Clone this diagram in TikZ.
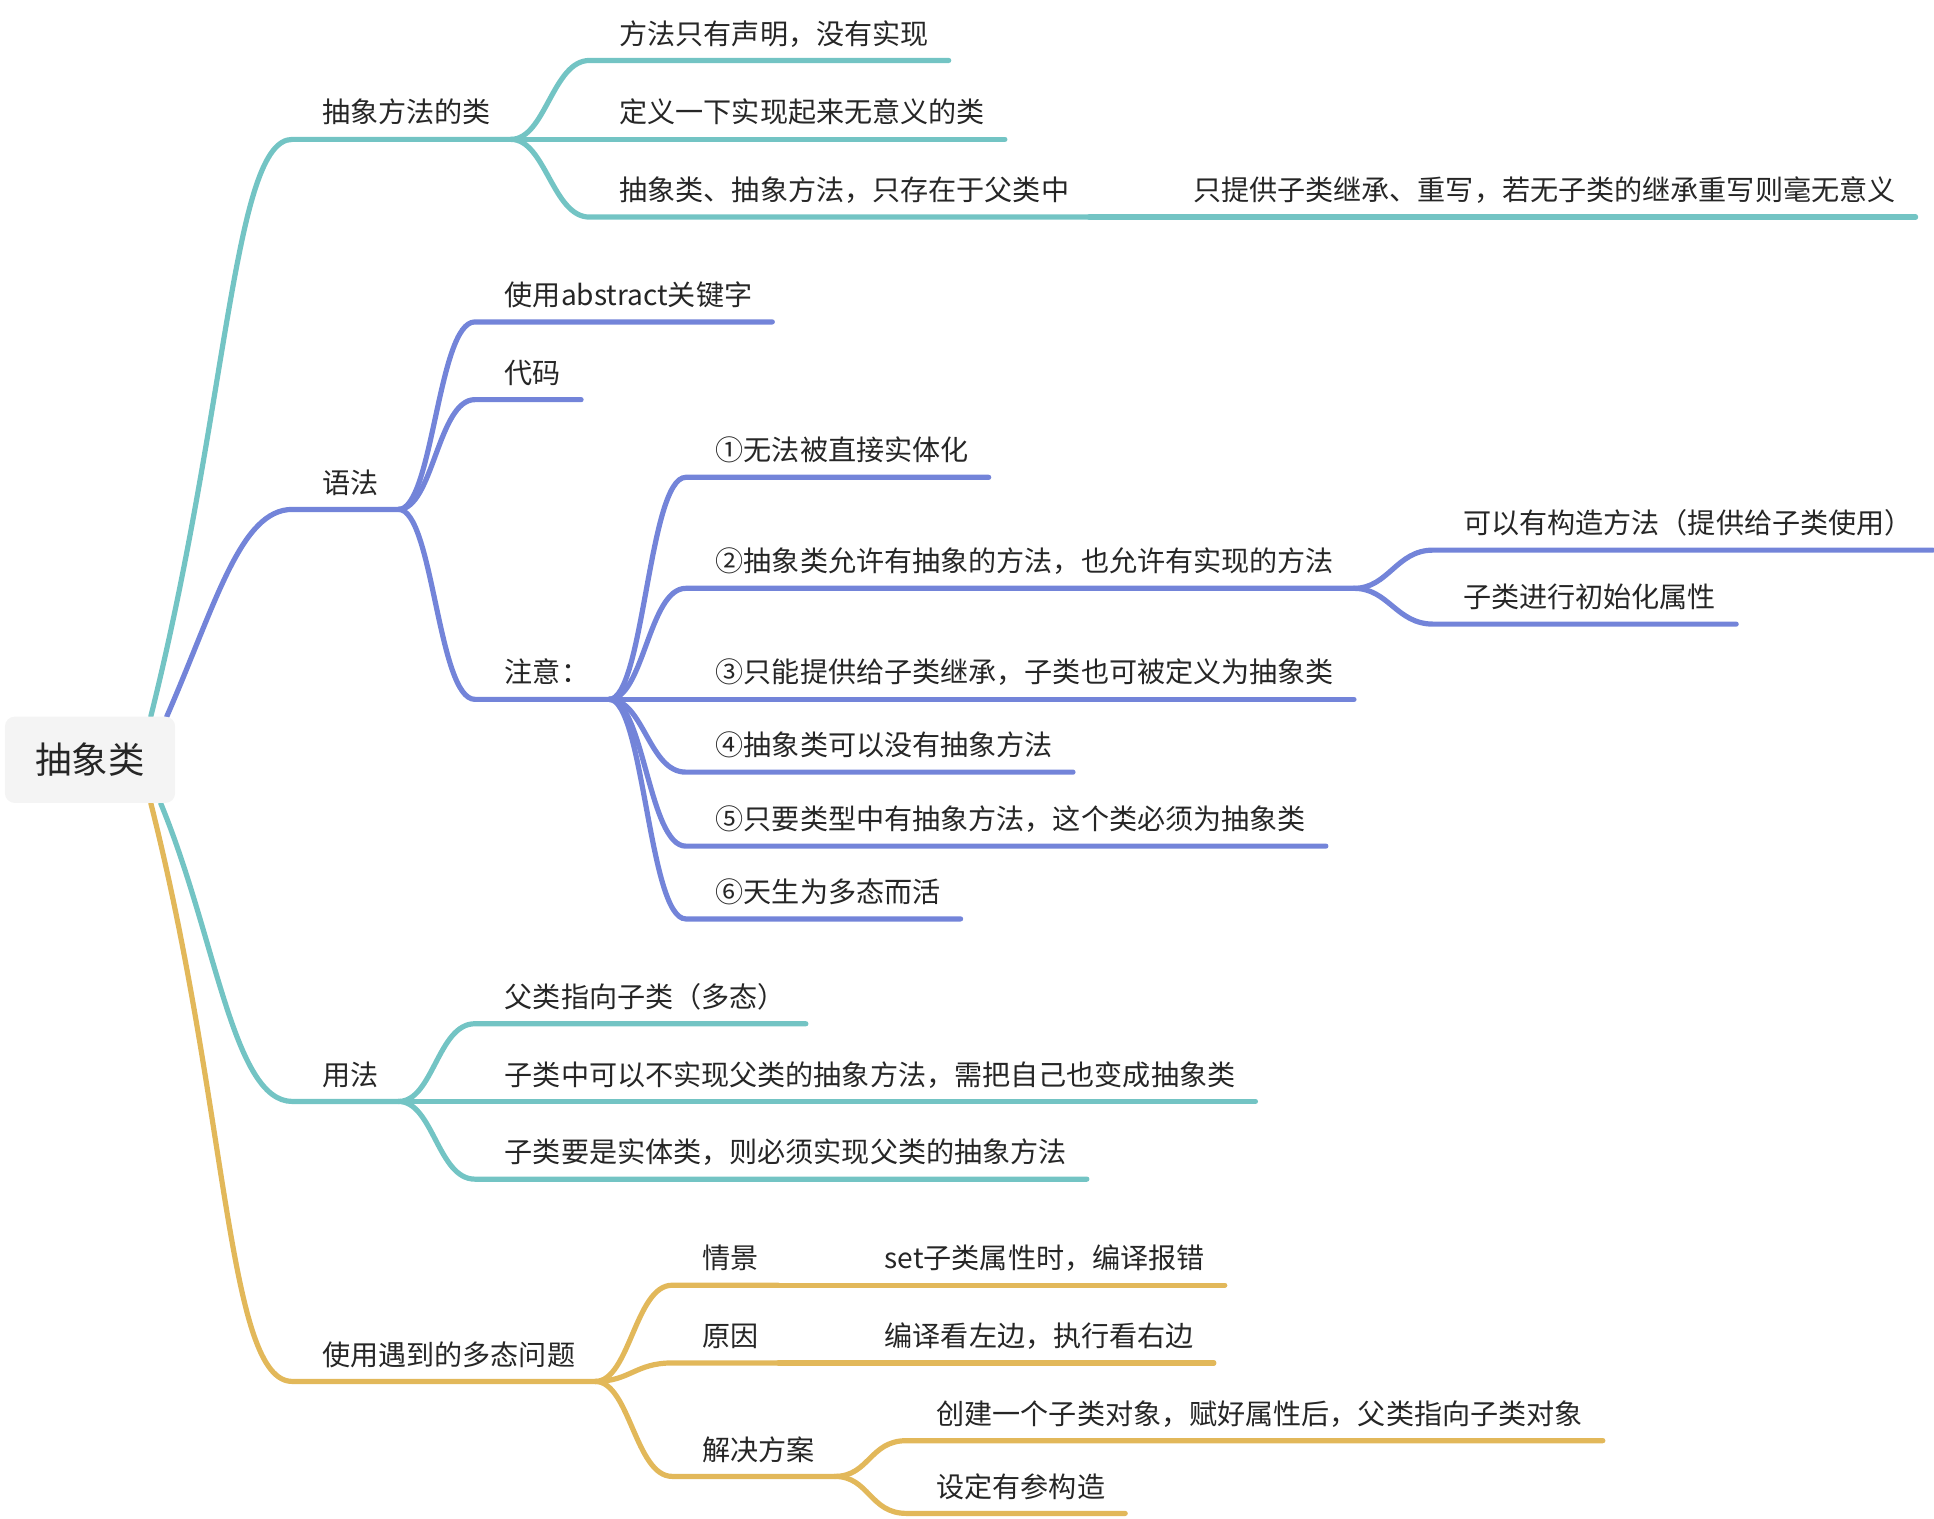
\documentclass[tikz,border=0pt]{standalone}
\usepackage{fontspec}
\setmainfont{Noto Sans CJK SC}
\usetikzlibrary{backgrounds}
\definecolor{tealc}{RGB}{115,196,196}
\definecolor{bluec}{RGB}{115,132,217}
\definecolor{goldc}{RGB}{226,184,90}
\definecolor{inkc}{RGB}{38,38,38}
\definecolor{rootfill}{RGB}{244,244,244}
\tikzset{
  topic/.style={anchor=south west, xshift=0.2cm, inner xsep=0.4cm, inner ysep=0pt,
    text depth=0.325cm, text=inkc, font=\fontsize{16.2}{19}\selectfont},
  central/.style={fill=rootfill, rounded corners=0.2cm, minimum width=3.45cm,
    minimum height=1.75cm, text=inkc, font=\fontsize{21}{24}\selectfont},
  branch/.style={draw=#1, line width=3pt, line cap=round},
}
\begin{document}
\begin{tikzpicture}[x=0.025cm, y=-0.025cm]
  \useasboundingbox (0,0) rectangle (1568,1231);
  \node[central] (root) at (73,616) {抽象类};
  \coordinate (ra) at ([xshift=-0.5cm]root.north east);
  \coordinate (rb) at ([xshift=-0.175cm]root.north east);
  \coordinate (rc) at ([xshift=-0.3cm]root.south east);
  \coordinate (rd) at ([xshift=-0.5cm]root.south east);

  % first branch
  \node[topic] (a)   at (237,113)  {抽象方法的类};
  \node[topic] (a1)  at (478,49)   {方法只有声明，没有实现};
  \node[topic] (a2)  at (478,113)  {定义一下实现起来无意义的类};
  \node[topic] (a3)  at (478,176)  {抽象类、抽象方法，只存在于父类中};
  \node[topic] (a3x) at (943,176)  {只提供子类继承、重写，若无子类的继承重写则毫无意义};

  % syntax
  \node[topic] (b)   at (237,413)  {语法};
  \node[topic] (b1)  at (385,261)  {使用abstract关键字};
  \node[topic] (b2)  at (385,324)  {代码};
  \node[topic] (b3)  at (385,567)  {注意：};
  \node[topic] (n1)  at (556,387)  {①无法被直接实体化};
  \node[topic] (n2)  at (556,477)  {②抽象类允许有抽象的方法，也允许有实现的方法};
  \node[topic] (n2a) at (1162,446) {可以有构造方法（提供给子类使用）};
  \node[topic] (n2b) at (1162,506) {子类进行初始化属性};
  \node[topic] (n3)  at (556,567)  {③只能提供给子类继承，子类也可被定义为抽象类};
  \node[topic] (n4)  at (556,626)  {④抽象类可以没有抽象方法};
  \node[topic] (n5)  at (556,686)  {⑤只要类型中有抽象方法，这个类必须为抽象类};
  \node[topic] (n6)  at (556,745)  {⑥天生为多态而活};

  % usage
  \node[topic] (c)   at (237,893)  {用法};
  \node[topic] (c1)  at (385,830)  {父类指向子类（多态）};
  \node[topic] (c2)  at (385,893)  {子类中可以不实现父类的抽象方法，需把自己也变成抽象类};
  \node[topic] (c3)  at (385,956)  {子类要是实体类，则必须实现父类的抽象方法};

  % problems
  \node[topic] (d)   at (237,1120) {使用遇到的多态问题};
  \node[topic] (d1)  at (545,1042) {情景};
  \node[topic] (d1x) at (693,1042) {set子类属性时，编译报错};
  \node[topic] (d2)  at (545,1105) {原因};
  \node[topic] (d2x) at (693,1105) {编译看左边，执行看右边};
  \node[topic] (d3)  at (545,1197) {解决方案};
  \node[topic] (d3a) at (735,1168) {创建一个子类对象，赋好属性后，父类指向子类对象};
  \node[topic] (d3b) at (735,1227) {设定有参构造};

  \begin{scope}[on background layer]
    \draw[branch=tealc] (ra) .. controls +(63,-252) and +(-48,0) .. ([xshift=-0.2cm]a.south west) -- (a.south east);
    \draw[branch=bluec] (rb) .. controls +(40,-92) and +(-42,0) .. ([xshift=-0.2cm]b.south west) -- (b.south east);
    \draw[branch=tealc] (rc) .. controls +(45,109) and +(-48,0) .. ([xshift=-0.2cm]c.south west) -- (c.south east);
    \draw[branch=goldc] (rd) .. controls +(63,249) and +(-53,0) .. ([xshift=-0.2cm]d.south west) -- (d.south east);
  \end{scope}

  \foreach \k in {a1,a2,a3}
    \draw[branch=tealc] (a.south east) .. controls +(28,0) and +(-30,0) .. ([xshift=-0.2cm]\k.south west) -- (\k.south east);
  \draw[branch=tealc] (a3.south east) -- (a3x.south east);
  \foreach \k in {b1,b2,b3}
    \draw[branch=bluec] (b.south east) .. controls +(28,0) and +(-30,0) .. ([xshift=-0.2cm]\k.south west) -- (\k.south east);
  \foreach \k in {n1,n2,n3,n4,n5,n6}
    \draw[branch=bluec] (b3.south east) .. controls +(28,0) and +(-30,0) .. ([xshift=-0.2cm]\k.south west) -- (\k.south east);
  \foreach \k in {n2a,n2b}
    \draw[branch=bluec] (n2.south east) .. controls +(28,0) and +(-30,0) .. ([xshift=-0.2cm]\k.south west) -- (\k.south east);
  \foreach \k in {c1,c2,c3}
    \draw[branch=tealc] (c.south east) .. controls +(28,0) and +(-30,0) .. ([xshift=-0.2cm]\k.south west) -- (\k.south east);
  \foreach \k in {d1,d2,d3}
    \draw[branch=goldc] (d.south east) .. controls +(28,0) and +(-30,0) .. ([xshift=-0.2cm]\k.south west) -- (\k.south east);
  \draw[branch=goldc] (d1.south east) -- (d1x.south east);
  \draw[branch=goldc] (d2.south east) -- (d2x.south east);
  \foreach \k in {d3a,d3b}
    \draw[branch=goldc] (d3.south east) .. controls +(28,0) and +(-30,0) .. ([xshift=-0.2cm]\k.south west) -- (\k.south east);
\end{tikzpicture}
\end{document}
